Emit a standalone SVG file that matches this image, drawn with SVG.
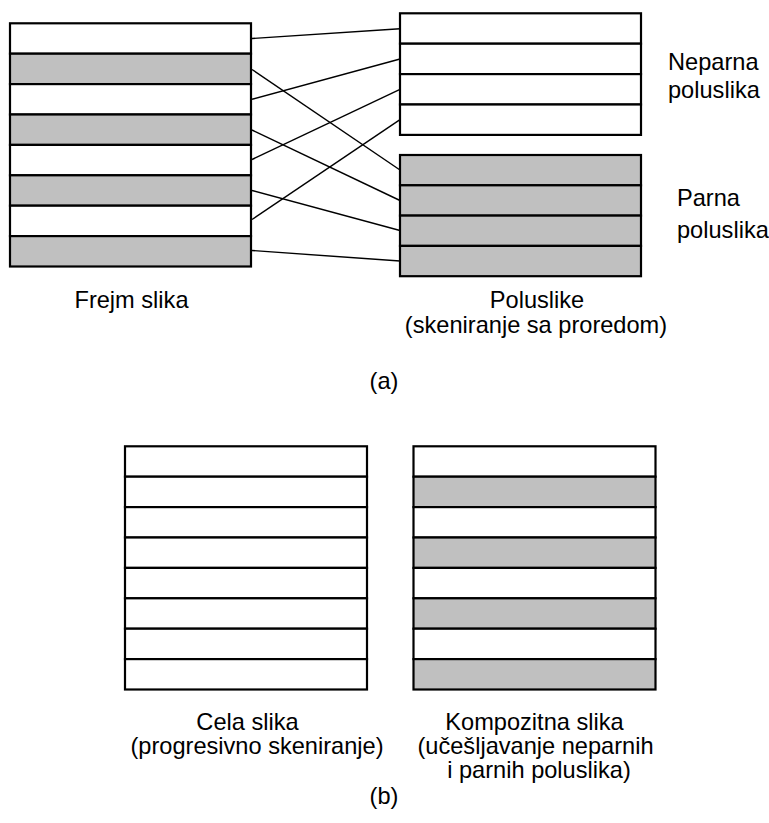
<svg xmlns="http://www.w3.org/2000/svg" width="769" height="823" viewBox="0 0 769 823">
<style>
.w{fill:#fff;stroke:#000;stroke-width:2.2}
.g{fill:#c0c0c0;stroke:#000;stroke-width:2.2}
.c{stroke:#000;stroke-width:1.4;fill:none}
text{font-family:"Liberation Sans",Arial,sans-serif;font-size:23.6px;fill:#000}
.m{text-anchor:middle}
</style>
<rect width="769" height="823" fill="#fff"/>
<g id="frame">
<rect class="w" x="10" y="23.3" width="241" height="30.4"/>
<rect class="g" x="10" y="53.7" width="241" height="30.4"/>
<rect class="w" x="10" y="84.1" width="241" height="30.4"/>
<rect class="g" x="10" y="114.5" width="241" height="30.4"/>
<rect class="w" x="10" y="144.9" width="241" height="30.4"/>
<rect class="g" x="10" y="175.3" width="241" height="30.4"/>
<rect class="w" x="10" y="205.7" width="241" height="30.4"/>
<rect class="g" x="10" y="236.1" width="241" height="30.4"/>
</g>
<g id="odd">
<rect class="w" x="400" y="13.3" width="241" height="30.4"/>
<rect class="w" x="400" y="43.7" width="241" height="30.4"/>
<rect class="w" x="400" y="74.1" width="241" height="30.4"/>
<rect class="w" x="400" y="104.5" width="241" height="30.4"/>
</g>
<g id="even">
<rect class="g" x="400" y="155" width="241" height="30.3"/>
<rect class="g" x="400" y="185.3" width="241" height="30.3"/>
<rect class="g" x="400" y="215.6" width="241" height="30.3"/>
<rect class="g" x="400" y="245.9" width="241" height="30.3"/>
</g>
<g id="connectors">
<line class="c" x1="252" y1="38.5" x2="400" y2="28.7"/>
<line class="c" x1="252" y1="69.5" x2="400" y2="170"/>
<line class="c" x1="252" y1="99.3" x2="400" y2="59"/>
<line class="c" x1="252" y1="130" x2="400" y2="200.5"/>
<line class="c" x1="252" y1="159.5" x2="400" y2="89.3"/>
<line class="c" x1="252" y1="190.5" x2="400" y2="230.5"/>
<line class="c" x1="252" y1="219.5" x2="400" y2="119.7"/>
<line class="c" x1="252" y1="250.5" x2="400" y2="261"/>
</g>
<g id="progressive">
<rect class="w" x="125" y="446.3" width="242" height="30.4"/>
<rect class="w" x="125" y="476.7" width="242" height="30.4"/>
<rect class="w" x="125" y="507.1" width="242" height="30.4"/>
<rect class="w" x="125" y="537.5" width="242" height="30.4"/>
<rect class="w" x="125" y="567.9" width="242" height="30.4"/>
<rect class="w" x="125" y="598.3" width="242" height="30.4"/>
<rect class="w" x="125" y="628.7" width="242" height="30.4"/>
<rect class="w" x="125" y="659.1" width="242" height="30.4"/>
</g>
<g id="composite">
<rect class="w" x="413.5" y="446.3" width="242" height="30.4"/>
<rect class="g" x="413.5" y="476.7" width="242" height="30.4"/>
<rect class="w" x="413.5" y="507.1" width="242" height="30.4"/>
<rect class="g" x="413.5" y="537.5" width="242" height="30.4"/>
<rect class="w" x="413.5" y="567.9" width="242" height="30.4"/>
<rect class="g" x="413.5" y="598.3" width="242" height="30.4"/>
<rect class="w" x="413.5" y="628.7" width="242" height="30.4"/>
<rect class="g" x="413.5" y="659.1" width="242" height="30.4"/>
</g>
<g id="labels">
<text class="m" x="131.5" y="308">Frejm slika</text>
<text class="m"><tspan x="537" y="308">Poluslike</tspan><tspan x="536" y="333">(skeniranje sa proredom)</tspan></text>
<text class="m" x="384" y="389">(a)</text>
<text><tspan x="668" y="70">Neparna</tspan><tspan x="668" y="98">poluslika</tspan></text>
<text><tspan x="677" y="206">Parna</tspan><tspan x="677" y="238">poluslika</tspan></text>
<text class="m"><tspan x="247.5" y="730">Cela slika</tspan><tspan x="257" y="754">(progresivno skeniranje)</tspan></text>
<text class="m"><tspan x="534.5" y="730">Kompozitna slika</tspan><tspan x="535.5" y="754">(učešljavanje neparnih</tspan><tspan x="539" y="778">i parnih poluslika)</tspan></text>
<text class="m" x="384" y="804">(b)</text>
</g>
</svg>
